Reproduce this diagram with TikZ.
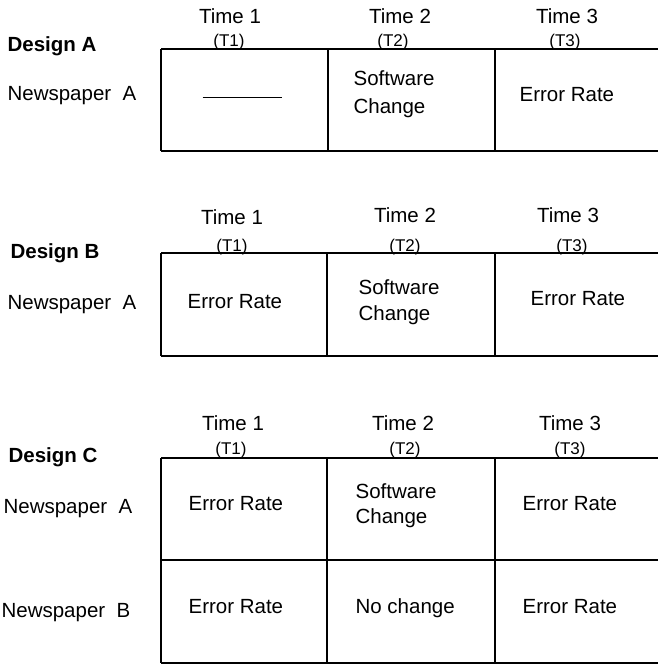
\documentclass[tikz,border=0pt]{standalone}
\usepackage{fontspec}
\setmainfont{Liberation Sans}
\newcommand{\tmHead}[1]{{\fontsize{20.5}{24}\selectfont Time #1}}
\newcommand{\tmShort}[1]{{\fontsize{17}{20}\selectfont (T#1)}}

\begin{document}
\begin{tikzpicture}[x=1pt,y=-1pt,line width=1.2pt,
    every node/.style={anchor=base west,inner sep=0pt,font=\fontsize{20.5}{24}\selectfont},
    head/.style={anchor=base},
    design/.style={font=\fontsize{20.5}{24}\selectfont\bfseries}]
      \useasboundingbox (0,0) rectangle (658,665);
      % design A
      \draw
      (161,49) -- (658,49)
      (161,151) -- (658,151)
      (161,49) -- (161,151)
      (328,49) -- (328,151)
      (495,49) -- (495,151);
      \node[head] (at1) at (230,23) {\tmHead{1}};
      \node[head] (at2) at (400,23) {\tmHead{2}};
      \node[head] (at3) at (567,23) {\tmHead{3}};
      \node[head] (as1) at (229,46) {\tmShort{1}};
      \node[head] (as2) at (393,46) {\tmShort{2}};
      \node[head] (as3) at (565,46) {\tmShort{3}};
      \node[design] (da) at (7,51) {Design A};
      \node (apa) at (7,100) {Newspaper\ \ A};
      \node (ablank) at (202,98) {\rule{79pt}{1pt}};
      \node (asw) at (353,85) {Software};
      \node (ach) at (353,113) {Change};
      \node (aer) at (519,101) {Error Rate};
      % design B
      \draw
      (161,253) -- (658,253)
      (161,356) -- (658,356)
      (161,253) -- (161,356)
      (327,253) -- (327,356)
      (495,253) -- (495,356);
      \node[head] (bt1) at (232,224) {\tmHead{1}};
      \node[head] (bt2) at (405,222) {\tmHead{2}};
      \node[head] (bt3) at (568,222) {\tmHead{3}};
      \node[head] (bs1) at (232,251) {\tmShort{1}};
      \node[head] (bs2) at (405,251) {\tmShort{2}};
      \node[head] (bs3) at (572,251) {\tmShort{3}};
      \node[design] (db) at (10,258) {Design B};
      \node (bpa) at (7,309) {Newspaper\ \ A};
      \node (ber1) at (187,308) {Error Rate};
      \node (bsw) at (358,294) {Software};
      \node (bch) at (358,320) {Change};
      \node (ber3) at (530,305) {Error Rate};
      % design C
      \draw
      (161,458) -- (658,458)
      (161,560) -- (658,560)
      (161,663) -- (658,663)
      (161,458) -- (161,663)
      (327,458) -- (327,663)
      (495,458) -- (495,663);
      \node[head] (ct1) at (233,430) {\tmHead{1}};
      \node[head] (ct2) at (403,430) {\tmHead{2}};
      \node[head] (ct3) at (570,430) {\tmHead{3}};
      \node[head] (cs1) at (231,454) {\tmShort{1}};
      \node[head] (cs2) at (405,454) {\tmShort{2}};
      \node[head] (cs3) at (570,454) {\tmShort{3}};
      \node[design] (dc) at (8,462) {Design C};
      \node (cpa) at (3,513) {Newspaper\ \ A};
      \node (cpb) at (1,617) {Newspaper\ \ B};
      \node (cer11) at (188,510) {Error Rate};
      \node (cer21) at (188,613) {Error Rate};
      \node (csw) at (355,498) {Software};
      \node (cch) at (355,523) {Change};
      \node (cno) at (355,613) {No change};
      \node (cer13) at (522,510) {Error Rate};
      \node (cer23) at (522,613) {Error Rate};
    \end{tikzpicture}
\end{document}
